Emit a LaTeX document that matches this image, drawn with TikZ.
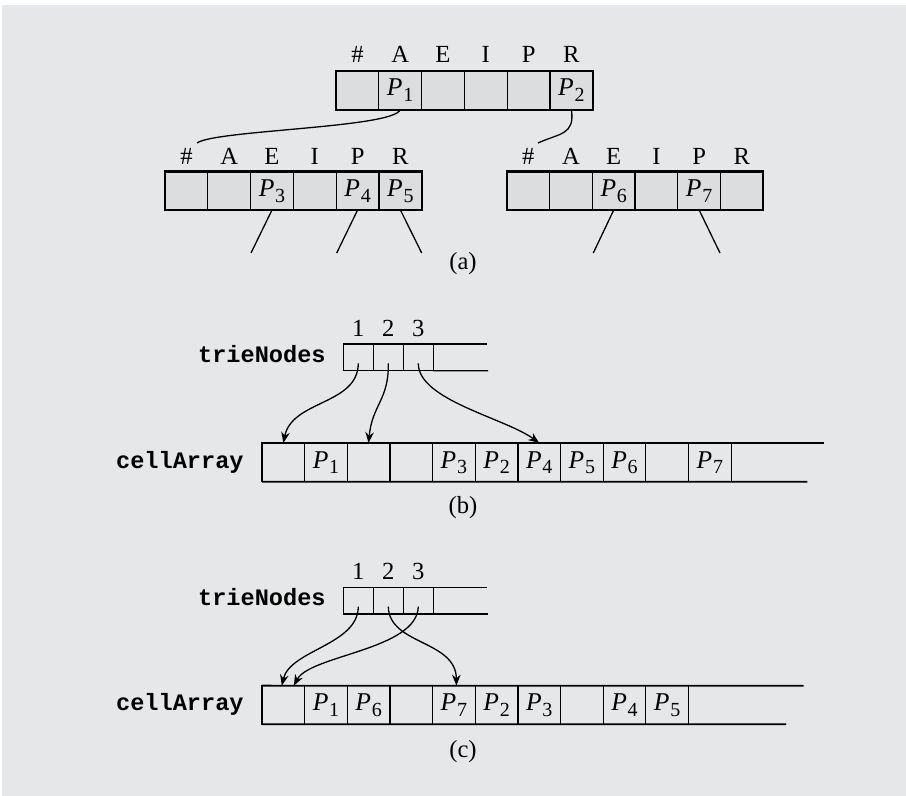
\documentclass[tikz,border=0pt]{standalone}
\usepackage{fontspec}
\setmainfont{Liberation Serif}
\newfontfamily\codefont{Liberation Mono}
\usetikzlibrary{arrows.meta,calc}
\definecolor{bg}{HTML}{E6E7E8}
\definecolor{cellfill}{HTML}{DCDDDF}
\newcommand{\Pp}[1]{{\fontsize{12.8}{13}\selectfont\textit{P}}\kern0.4pt\raisebox{-2.8pt}{\fontsize{10}{11}\selectfont #1}}
\begin{document}
\begin{tikzpicture}[x=0.5pt,y=-0.5pt,
  lbl/.style={font=\fontsize{12.3}{13}\selectfont, inner sep=0, anchor=base},
  code/.style={font=\codefont\bfseries\fontsize{11.8}{12}\selectfont, inner sep=0, anchor=base east},
  acell/.style={draw, line width=0.65pt, fill=cellfill, minimum width=21.4pt, minimum height=19.25pt, inner sep=0, outer sep=0},
  bcell/.style={draw, line width=0.6pt, minimum width=21.325pt, minimum height=19.35pt, inner sep=0, outer sep=0},
  tcell/.style={draw, line width=0.6pt, minimum width=15pt, minimum height=13.35pt, inner sep=0, outer sep=0},
  frame/.style={line width=1.15pt},
  hline/.style={line width=0.9pt},
  link/.style={line width=0.65pt},
  arr/.style={line width=0.65pt, -{Stealth[length=5.5pt,width=4.3pt,inset=1.8pt]}},
]
\useasboundingbox (0,0) rectangle (906,796);
\fill[white] (0,0) rectangle (906,796);
\fill[bg] (2,5) rectangle (906,796);

% ---------- (a) ----------
% top node
\foreach \i in {1,...,6} \node[acell] (r\i) at ({336+21.4+(\i-1)*42.8},90.5) {};
\draw[frame] (r1.north west) rectangle (r6.south east);
\foreach \i/\c in {1/\#,2/A,3/E,4/I,5/P,6/R} \node[lbl] (rl\i) at ({336+21.4+(\i-1)*42.8},63) {\c};
\node[lbl] (rp1) at ($(r2.south)+(0,-14)$) {\Pp{1}};
\node[lbl] (rp2) at ($(r6.south)+(0,-14)$) {\Pp{2}};

% left child
\foreach \i in {1,...,6} \node[acell] (lc\i) at ({165+21.4+(\i-1)*42.8},190.75) {};
\draw[frame] (lc1.north west) rectangle (lc6.south east);
\foreach \i/\c in {1/\#,2/A,3/E,4/I,5/P,6/R} \node[lbl] (ll\i) at ({165+21.4+(\i-1)*42.8},165) {\c};
\node[lbl] (lp3) at ($(lc3.south)+(0,-13.5)$) {\Pp{3}};
\node[lbl] (lp4) at ($(lc5.south)+(0,-13.5)$) {\Pp{4}};
\node[lbl] (lp5) at ($(lc6.south)+(0,-13.5)$) {\Pp{5}};

% right child
\foreach \i in {1,...,6} \node[acell] (rc\i) at ({507+21.35+(\i-1)*42.7},190.75) {};
\draw[frame] (rc1.north west) rectangle (rc6.south east);
\foreach \i/\c in {1/\#,2/A,3/E,4/I,5/P,6/R} \node[lbl] (rr\i) at ({507+21.35+(\i-1)*42.7},165) {\c};
\node[lbl] (rp6) at ($(rc3.south)+(0,-13.5)$) {\Pp{6}};
\node[lbl] (rp7) at ($(rc5.south)+(0,-13.5)$) {\Pp{7}};

% links
\coordinate (h1) at (197,143);
\coordinate (h2) at (538,143);
\draw[link] (r2.south) .. controls (393,128) and (215,130) .. (h1);
\draw[link] (r6.south) .. controls (575,135) and (560,133) .. (h2);
\coordinate (e3) at (251,253);
\coordinate (e4) at (336.7,253);
\coordinate (e5) at (421.7,253);
\coordinate (e6) at (593.3,253);
\coordinate (e7) at (720,253);
\draw[link] (lc3.south) -- (e3);
\draw[link] (lc5.south) -- (e4);
\draw[link] (lc6.south) -- (e5);
\draw[link] (rc3.south) -- (e6);
\draw[link] (rc5.south) -- (e7);
\node[lbl] (capa) at (463,269.5) {(a)};

% ---------- (b) ----------
\node[code] (btl) at (326,363) {trieNodes};
\foreach \i in {1,2,3} \node[tcell] (bt\i) at ({343.3+15+(\i-1)*30},357.35) {};
\foreach \i in {1,2,3} \node[lbl] (bn\i) at ({343.3+15+(\i-1)*30},336.7) {\i};
\coordinate (btT) at (487,344);
\coordinate (btB) at (488,370.7);
\draw[link] (bt3.north east) -- (btT);
\draw[link] (bt3.south east) -- (btB);

\node[code] (bcl) at (244,468.3) {cellArray};
\foreach \i in {1,...,11} \node[bcell] (bc\i) at ({262+21.325+(\i-1)*42.65},462.35) {};
\coordinate (bcT) at (824.3,443);
\coordinate (bcB) at (807.3,481.7);
\draw[hline] (bc1.north west) -- (bcT);
\draw[hline] (bc1.south west) -- (bcB);
\draw[hline] (bc1.north west) -- (bc1.south west);
\foreach \n/\k in {2/1,5/3,6/2,7/4,8/5,9/6,11/7}
  \node[lbl] (bp\k) at ($(bc\n.south)+(0,-13.4)$) {\Pp{\k}};

\coordinate (bs1) at ($(bt1.center)+(0,6)$);
\coordinate (bs2) at ($(bt2.center)+(0,6)$);
\coordinate (bs3) at ($(bt3.center)+(0,6)$);
\draw[arr] (bs1) .. controls (358,405) and (292,400) .. (bc1.north);
\draw[arr] (bs2) .. controls (389,400) and (372,405) .. (bc3.north);
\draw[arr] (bs3) .. controls (418,400) and (505,418) .. (bc7.north);
\node[lbl] (capb) at (463,514) {(b)};

% ---------- (c) ----------
\node[code] (ctl) at (326,606) {trieNodes};
\foreach \i in {1,2,3} \node[tcell] (ct\i) at ({343.3+15+(\i-1)*30},600.65) {};
\foreach \i in {1,2,3} \node[lbl] (cn\i) at ({343.3+15+(\i-1)*30},580) {\i};
\coordinate (ctT) at (487,587.3);
\coordinate (ctB) at (488,614);
\draw[link] (ct3.north east) -- (ctT);
\draw[link] (ct3.south east) -- (ctB);

\node[code] (ccl) at (244,711) {cellArray};
\foreach \i in {1,...,10} \node[bcell] (cc\i) at ({262+21.325+(\i-1)*42.65},705) {};
\coordinate (ccT) at (803.5,685.7);
\coordinate (ccB) at (786,724.3);
\draw[hline] (cc1.north west) -- (ccT);
\draw[hline] (cc1.south west) -- (ccB);
\draw[hline] (cc1.north west) -- (cc1.south west);
\foreach \n/\k in {2/1,3/6,5/7,6/2,7/3,9/4,10/5}
  \node[lbl] (cp\k) at ($(cc\n.south)+(0,-13.4)$) {\Pp{\k}};

\coordinate (cs1) at ($(ct1.center)+(0,6)$);
\coordinate (cs2) at ($(ct2.center)+(0,6)$);
\coordinate (cs3) at ($(ct3.center)+(0,6)$);
\coordinate (ce1) at ($(cc1.north)+(-1.5,0)$);
\coordinate (ce3) at ($(cc1.north)+(10.5,0)$);
\coordinate (ce2) at ($(cc5.north)+(2.5,0)$);
\draw[arr] (cs1) .. controls (358,645) and (290,650) .. (ce1);
\draw[arr] (cs3) .. controls (417,650) and (310,655) .. (ce3);
\draw[arr] (cs2) .. controls (389,645) and (456,640) .. (ce2);
\node[lbl] (capc) at (463,757) {(c)};
\end{tikzpicture}
\end{document}
